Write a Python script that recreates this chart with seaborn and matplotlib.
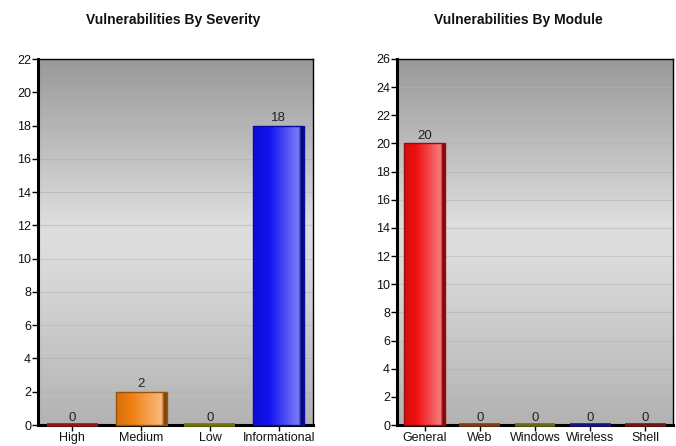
import numpy as np
import pandas as pd
import matplotlib
matplotlib.use("Agg")
import matplotlib.pyplot as plt
import matplotlib.colors as mcolors
import seaborn as sns

# Data
severity_labels = ["High", "Medium", "Low", "Informational"]
severity_counts = [0, 2, 0, 18]
severity_colors = ["#e02020", "#f08010", "#b0b010", "#1010f0"]
severity_ticks = list(range(0, 23, 2))

module_labels = ["General", "Web", "Windows", "Wireless", "Shell"]
module_counts = [20, 0, 0, 0, 0]
module_colors = ["#f01010", "#c06020", "#a0a020", "#2020c0", "#b02020"]
module_ticks = list(range(0, 27, 2))

sns.set_theme(style="white")
fam = ["Liberation Sans Narrow", "Liberation Sans", "DejaVu Sans"]
plt.rcParams["font.family"] = fam

W, H = 676, 446
fig = plt.figure(figsize=(W / 100, H / 100), dpi=100)


def px_axes(x0, y0, x1, y1):
    return fig.add_axes([x0 / W, 1 - y1 / H, (x1 - x0) / W, (y1 - y0) / H])


def background(ax):
    # vertical grey gradient: dark at top, lightest just below the middle
    stops = np.array([0.0, 0.45, 0.55, 1.0])
    vals = np.array([0.60, 0.87, 0.86, 0.70])
    t = np.linspace(0, 1, 256)
    g = np.interp(t, stops, vals)
    img = np.stack([g, g, g], axis=-1)[:, None, :].repeat(2, axis=1)
    ax.imshow(img, extent=[0, 1, 0, 1], origin="upper", transform=ax.transAxes,
              aspect="auto", zorder=0, interpolation="bilinear")


def bar_gradient(ax, patch, color):
    rgb = np.array(mcolors.to_rgb(color))
    dark = rgb * 0.55
    light = rgb + (1 - rgb) * 0.45
    stops = [0.0, 0.3, 0.9, 0.95, 1.0]
    cols = [rgb * 0.88, rgb, light, dark, dark]
    t = np.linspace(0, 1, 64)
    row = np.stack([np.interp(t, stops, [c[i] for c in cols]) for i in range(3)], axis=-1)
    img = row[None, :, :].repeat(2, axis=0)
    x, y = patch.get_x(), patch.get_y()
    w, h = patch.get_width(), patch.get_height()
    if h <= 0:
        return
    im = ax.imshow(img, extent=[x, x + w, y, y + h], aspect="auto",
                   zorder=3, interpolation="bilinear")
    im.set_clip_path(patch)


def draw_chart(ax, labels, counts, colors, ticks, title, title_x):
    df = pd.DataFrame({"label": labels, "count": counts})
    background(ax)
    sns.barplot(data=df, x="label", y="count", hue="label", palette=colors,
                legend=False, width=0.74, ax=ax, zorder=2, saturation=1)
    n = len(labels)
    ax.set_xlim(-0.5, n - 0.5)
    ax.set_ylim(ticks[0], ticks[-1])
    ax.set_yticks(ticks)
    for p, c in zip(ax.patches, colors):
        rgb = np.array(mcolors.to_rgb(c))
        p.set_edgecolor(tuple(rgb * 0.65))
        p.set_facecolor("none")
        p.set_linewidth(1.0 if p.get_height() > 0 else 2.6)
        p.set_zorder(3.5)
        p.set_clip_on(False)
        bar_gradient(ax, p, c)
    for cont in ax.containers:
        ax.bar_label(cont, padding=1, fontsize=9.5, color="#222222", zorder=5)
    for t in ticks[1:-1]:
        ax.axhline(t, color="#b0b0b0", lw=0.8, alpha=0.5, zorder=1)
    ax.set_xlim(-0.5, n - 0.5)
    ax.set_ylim(ticks[0], ticks[-1])
    ax.set_xlabel("")
    ax.set_ylabel("")
    ax.tick_params(axis="both", which="both", length=4, width=1, color="black",
                   labelsize=9, labelcolor="#111111", pad=1,
                   bottom=True, left=True)
    for s in ["top", "right"]:
        ax.spines[s].set_linewidth(1.0)
        ax.spines[s].set_color("black")
    for s in ["left", "bottom"]:
        ax.spines[s].set_linewidth(2.2)
        ax.spines[s].set_color("black")
    ax.grid(False)
    fig.text(title_x / W, 1 - 20 / H, title, ha="center", va="center",
             fontsize=10, fontweight="bold", color="#111111")


ax1 = px_axes(38, 59, 313, 425)
draw_chart(ax1, severity_labels, severity_counts, severity_colors,
           severity_ticks, "Vulnerabilities By Severity", 173)

ax2 = px_axes(397, 59, 673, 425)
draw_chart(ax2, module_labels, module_counts, module_colors,
           module_ticks, "Vulnerabilities By Module", 518)

fig.savefig("out.png", dpi=100, facecolor="white")
